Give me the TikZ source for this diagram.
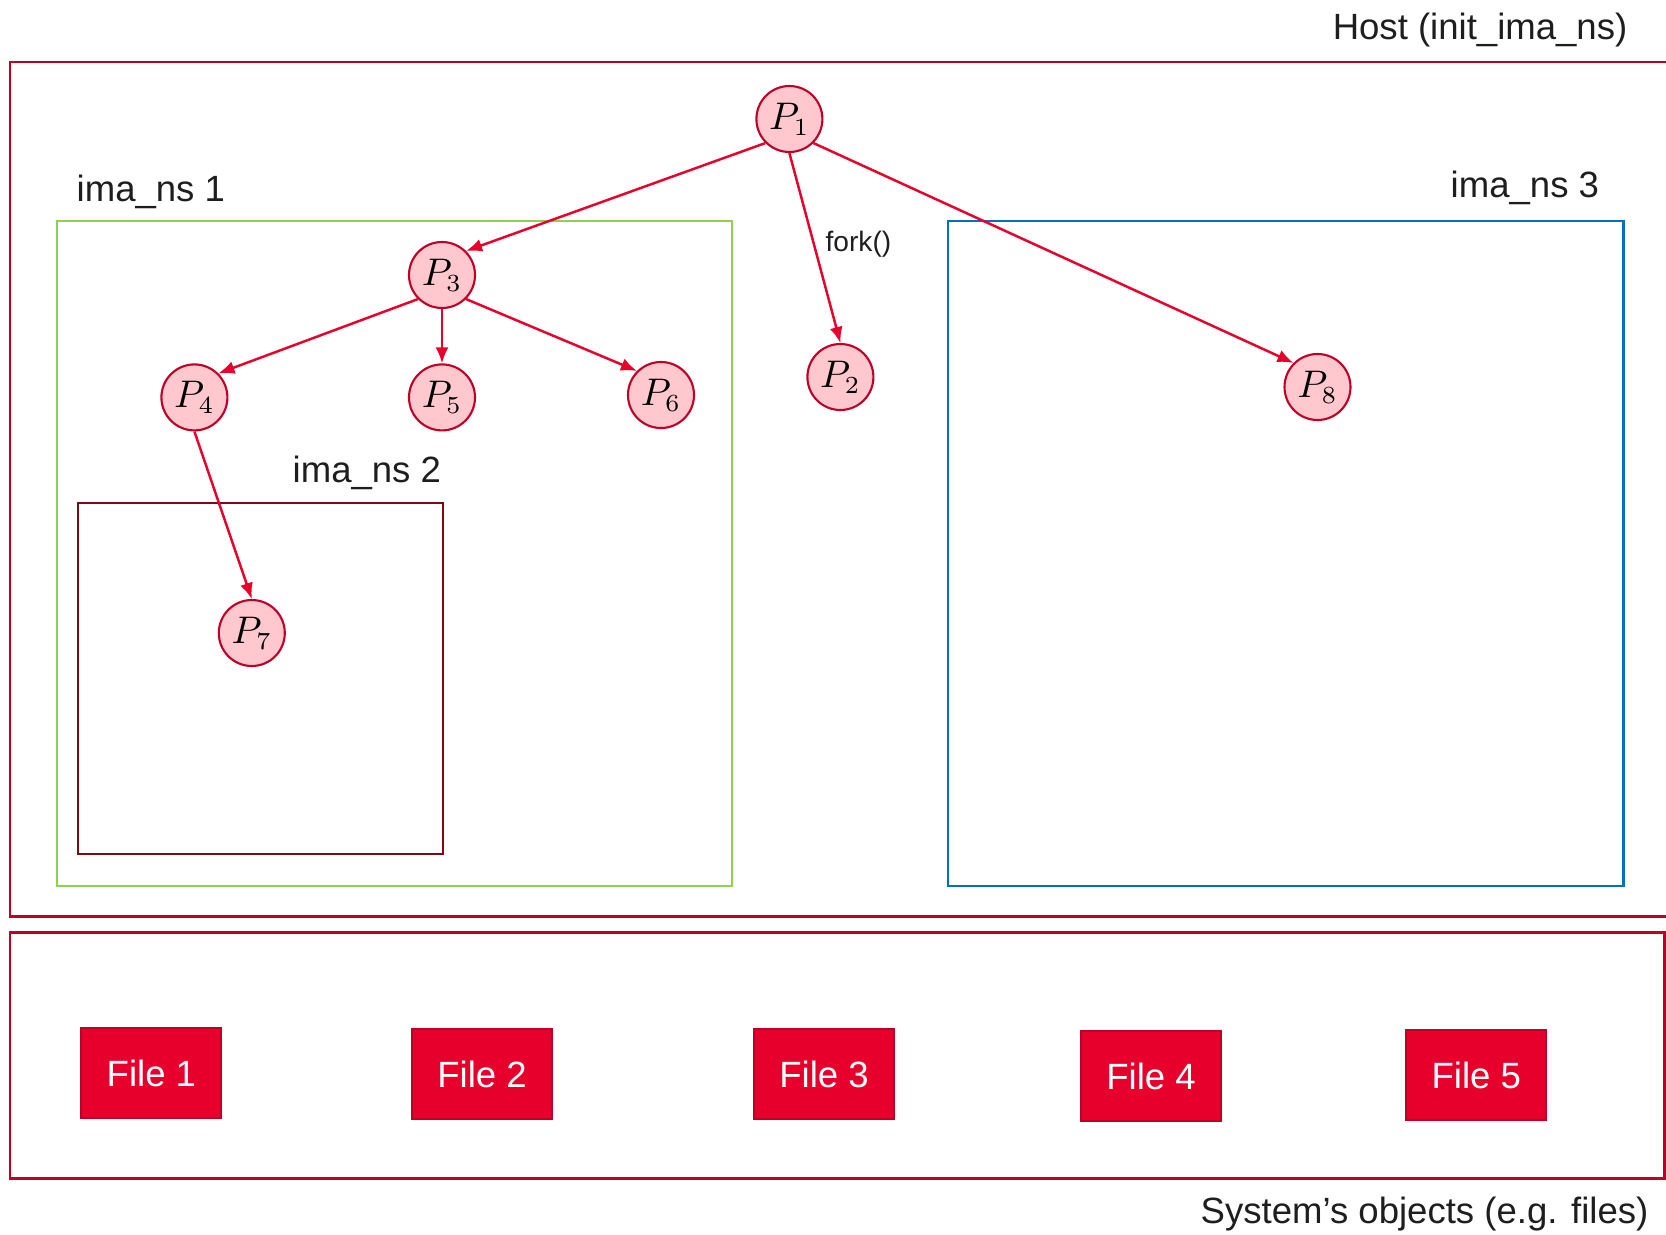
\documentclass[tikz,border=0pt]{standalone}
\usepackage[no-math]{fontspec}
\setmainfont{Liberation Sans}
\usetikzlibrary{arrows.meta}

\definecolor{hostred}{RGB}{190,0,40}
\definecolor{arrowred}{RGB}{232,0,45}
\definecolor{procfill}{RGB}{255,199,206}
\definecolor{nsgreen}{RGB}{146,208,80}
\definecolor{nsblue}{RGB}{0,112,192}
\definecolor{nsmaroon}{RGB}{128,10,20}
\definecolor{txtgray}{RGB}{30,30,30}

\tikzset{
  proc/.style={circle,draw=hostred,fill=procfill,line width=0.6pt,minimum size=0.66cm,inner sep=0pt,font=\fontsize{10.5}{12}\selectfont},
  filebox/.style={draw=hostred,fill=arrowred,line width=0.6pt,minimum width=1.40cm,minimum height=0.90cm,text=white,font=\fontsize{10.4}{12}\selectfont},
  edge/.style={draw=arrowred,line width=0.7pt,-{Latex[length=1.6mm,width=1.3mm]}},
  lbl/.style={font=\fontsize{10.4}{12}\selectfont,inner sep=0pt,text=txtgray}
}

\begin{document}
\begin{tikzpicture}
\useasboundingbox (0,0) rectangle (16.66,12.34);

% host and system boxes
\draw[hostred,line width=0.85pt] (16.7,11.72)--(0.10,11.72)--(0.10,3.18)--(16.7,3.18);
\draw[hostred,line width=0.85pt] (0.10,0.56) rectangle (16.64,3.02);
\node[lbl,anchor=east] (host) at (16.28,12.035) {Host (init\_ima\_ns)};
\node[lbl,anchor=east] (sys) at (16.49,0.20) {System’s objects (e.g. files)};

% namespaces
\draw[nsgreen,line width=0.6pt] (0.574,3.48) rectangle (7.32,10.13);
\draw[nsmaroon,line width=0.6pt] (0.776,3.80) rectangle (4.43,7.314);
\draw[nsblue,line width=0.6pt] (9.48,3.48) rectangle (16.235,10.13);
\node[lbl,anchor=west] (ns1) at (0.76,10.42) {ima\_ns 1};
\node[lbl,anchor=west] (ns2) at (2.92,7.615) {ima\_ns 2};
\node[lbl,anchor=west] (ns3) at (14.50,10.465) {ima\_ns 3};

% processes
\node[proc] (p1) at (7.894,11.15) {$P_1$};
\node[proc] (p2) at (8.404,8.57) {$P_2$};
\node[proc] (p3) at (4.42,9.59) {$P_3$};
\node[proc] (p4) at (1.944,8.366) {$P_4$};
\node[proc] (p5) at (4.42,8.366) {$P_5$};
\node[proc] (p6) at (6.61,8.39) {$P_6$};
\node[proc] (p7) at (2.518,6.01) {$P_7$};
\node[proc] (p8) at (13.175,8.47) {$P_8$};

\draw[edge] (p1.south west) -- (p3.north east);
\draw[edge] (p1.south) -- node[right,pos=0.48,inner sep=3pt,font=\fontsize{8}{10}\selectfont,text=txtgray] (fork) {fork()} (p2.north);
\draw[edge] (p1.south east) -- (p8.north west);
\draw[edge] (p3.south west) -- (p4.north east);
\draw[edge] (p3.south) -- (p5.north);
\draw[edge] (p3.south east) -- (p6.north west);
\draw[edge] (p4.south) -- (p7.north);

% files
\node[filebox] (f1) at (1.514,1.61) {File 1};
\node[filebox] (f2) at (4.82,1.60) {File 2};
\node[filebox] (f3) at (8.24,1.60) {File 3};
\node[filebox] (f4) at (11.51,1.58) {File 4};
\node[filebox] (f5) at (14.763,1.59) {File 5};

\end{tikzpicture}
\end{document}
